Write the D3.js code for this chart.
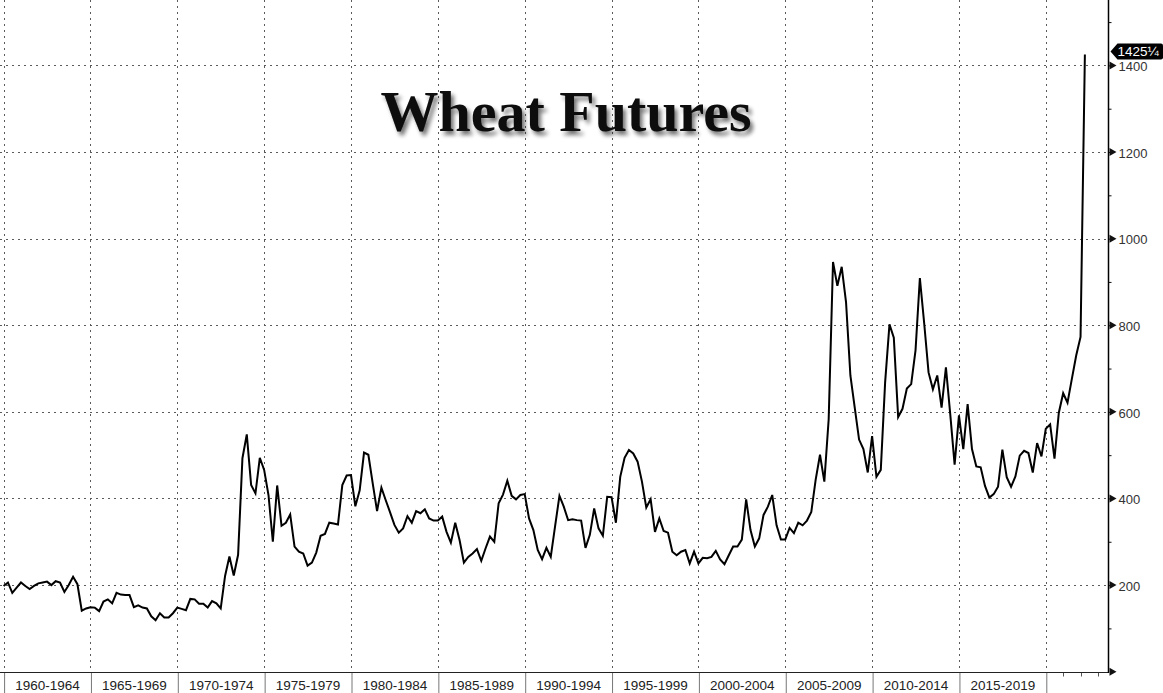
<!DOCTYPE html>
<html>
<head>
<meta charset="utf-8">
<script src="https://cdn.jsdelivr.net/npm/d3@7"></script>
<style>
  html, body { margin: 0; padding: 0; background: #fff; }
  svg { display: block; }
</style>
</head>
<body>
<svg id="chart" width="1163" height="693"></svg>
<script>
// ---------------- DATA ----------------
const title = "Wheat Futures";
const startYear = 1960;          // first quarterly observation
const pointsPerYear = 4;         // quarterly closes
// Wheat futures (US cents / bushel), quarterly, 1960 Q1 -> 2022 Q1
const wheatPrices = [
  198, 206, 182, 194, 206, 198, 191, 198, 204, 206,
  208, 200, 209, 206, 184, 200, 219, 202, 141, 146,
  149, 148, 140, 162, 167, 158, 182, 178, 177, 177,
  149, 153, 148, 146, 128, 119, 135, 125, 125, 135,
  148, 145, 142, 168, 167, 157, 157, 148, 163, 158,
  146, 221, 266, 222, 270, 493, 548, 431, 412, 494,
  466, 408, 300, 430, 337, 344, 363, 289, 277, 273,
  245, 252, 275, 314, 318, 344, 342, 340, 431, 453,
  454, 382, 419, 506, 501, 435, 371, 425, 396, 368,
  339, 321, 331, 359, 344, 371, 366, 375, 354, 349,
  349, 358, 323, 298, 344, 304, 252, 265, 273, 283,
  256, 285, 312, 300, 389, 409, 441, 406, 398, 408,
  410, 354, 327, 281, 260, 286, 265, 336, 406, 381,
  350, 352, 350, 349, 286, 316, 377, 331, 314, 404,
  403, 344, 450, 494, 512, 504, 485, 439, 379, 398,
  323, 354, 325, 321, 277, 269, 277, 281, 250, 277,
  250, 263, 262, 265, 279, 259, 248, 269, 289, 289,
  305, 398, 327, 289, 308, 362, 381, 408, 338, 305,
  305, 332, 320, 344, 338, 349, 369, 443, 501, 439,
  583, 946, 891, 935, 853, 684, 610, 536, 514, 460,
  544, 450, 466, 668, 802, 771, 588, 607, 654, 664,
  742, 909, 804, 691, 652, 684, 610, 703, 594, 478,
  592, 514, 618, 514, 474, 472, 429, 402, 410, 427,
  513, 449, 427, 451, 499, 510, 505, 460, 528, 497,
  561, 571, 492, 598, 643, 621, 676, 730, 773, 1425.25
];
const lastValueLabel = "1425¼";
const periodBoundaries = [1960, 1965, 1970, 1975, 1980, 1985, 1990, 1995, 2000, 2005, 2010, 2015, 2020];
const periodLabels = ["1960-1964", "1965-1969", "1970-1974", "1975-1979", "1980-1984", "1985-1989",
                      "1990-1994", "1995-1999", "2000-2004", "2005-2009", "2010-2014", "2015-2019"];
const yMajorTicks = [200, 400, 600, 800, 1000, 1200, 1400];
const yMinorTicks = [100, 200, 300, 400, 500, 600, 700, 800, 900, 1000, 1100, 1200, 1300, 1400, 1500];
const extraYearTicks = [2021, 2022, 2023];

// ---------------- LAYOUT ----------------
const W = 1163, H = 693;
const axisX = 1108.5;
const axisY = 672.5;

const svg = d3.select("#chart");

const x = d3.scaleLinear().domain([1960, 2020]).range([3.6, 1045.8]);
const y = d3.scaleLinear().domain([0, 1400]).range([671.7, 65.4]);

const series = wheatPrices.map((v, i) => ({ t: startYear + i / pointsPerYear, v }));

// defs: title shadow
const defs = svg.append("defs");
const f = defs.append("filter").attr("id", "shadow").attr("x", "-10%").attr("y", "-30%")
  .attr("width", "130%").attr("height", "170%");
f.append("feGaussianBlur").attr("in", "SourceAlpha").attr("stdDeviation", 2.2).attr("result", "b");
f.append("feOffset").attr("in", "b").attr("dx", 3).attr("dy", 4).attr("result", "o");
f.append("feComponentTransfer").attr("in", "o").attr("result", "o2")
  .append("feFuncA").attr("type", "linear").attr("slope", 0.55);
const fm = f.append("feMerge");
fm.append("feMergeNode").attr("in", "o2");
fm.append("feMergeNode").attr("in", "SourceGraphic");

svg.append("rect").attr("width", W).attr("height", H).attr("fill", "#fff");

// horizontal dotted gridlines
svg.append("g").selectAll("line").data(yMajorTicks).join("line")
  .attr("x1", 0).attr("x2", axisX)
  .attr("y1", d => Math.round(y(d)) + 0.5).attr("y2", d => Math.round(y(d)) + 0.5)
  .attr("stroke", "#5a5a5a").attr("stroke-width", 1).attr("stroke-dasharray", "2,4");

// vertical dotted gridlines at period boundaries
svg.append("g").selectAll("line").data(periodBoundaries).join("line")
  .attr("x1", d => Math.round(x(d)) + 0.5).attr("x2", d => Math.round(x(d)) + 0.5)
  .attr("y1", 0).attr("y2", axisY)
  .attr("stroke", "#5a5a5a").attr("stroke-width", 1).attr("stroke-dasharray", "2,4");

// title
svg.append("text")
  .attr("x", 566).attr("y", 131)
  .attr("text-anchor", "middle")
  .attr("font-family", "'Liberation Serif', 'DejaVu Serif', serif")
  .attr("font-weight", "bold")
  .attr("font-size", 58)
  .attr("fill", "#0a0a0a")
  .attr("filter", "url(#shadow)")
  .text(title);

// bottom axis: separators below the axis line
const xAxisSep = d3.axisBottom(x).tickValues(periodBoundaries).tickSize(21).tickFormat("");
const gx = svg.append("g").attr("transform", `translate(0.5,${axisY})`).call(xAxisSep);
gx.select(".domain").remove();
gx.selectAll(".tick line").attr("stroke", "#777");

// period labels centred between separators
const mids = periodLabels.map((_, i) => (periodBoundaries[i] + periodBoundaries[i + 1]) / 2);
const xAxisLab = d3.axisBottom(x).tickValues(mids).tickSize(0)
  .tickFormat((d, i) => periodLabels[i]);
const gxl = svg.append("g").attr("transform", `translate(0,${axisY + 5})`).call(xAxisLab);
gxl.select(".domain").remove();
gxl.selectAll("text").attr("font-family", "'Liberation Sans', Arial, sans-serif")
  .attr("font-size", 13.5).attr("fill", "#222").attr("dy", "0.71em");

// extra small year ticks after 2020
svg.append("g").selectAll("line").data(extraYearTicks).join("line")
  .attr("x1", d => Math.round(x(d)) + 0.5).attr("x2", d => Math.round(x(d)) + 0.5)
  .attr("y1", axisY).attr("y2", axisY + 4).attr("stroke", "#555");

// x axis line
svg.append("line").attr("x1", 0).attr("x2", axisX).attr("y1", axisY).attr("y2", axisY)
  .attr("stroke", "#222").attr("stroke-width", 1.2);

// right axis
const yAxis = d3.axisRight(y).tickValues(yMinorTicks).tickSize(3).tickFormat("");
const gy = svg.append("g").attr("transform", `translate(${axisX},0)`).call(yAxis);
gy.select(".domain").remove();
gy.selectAll(".tick line").attr("stroke", "#111");
svg.append("line").attr("x1", axisX).attr("x2", axisX).attr("y1", 0).attr("y2", axisY + 0.5)
  .attr("stroke", "#000").attr("stroke-width", 1.5);

// label pointers and labels
const pointerTicks = [0].concat(yMajorTicks);
svg.append("g").selectAll("path").data(pointerTicks).join("path")
  .attr("d", d => {
    const yy = y(d);
    return `M${axisX + 1},${yy - 4} L${axisX + 8},${yy} L${axisX + 1},${yy + 4} Z`;
  })
  .attr("fill", "#111");
svg.append("g").selectAll("text").data(yMajorTicks).join("text")
  .attr("x", axisX + 10).attr("y", d => y(d) + 1).attr("dy", "0.36em")
  .attr("font-family", "'Liberation Sans', Arial, sans-serif")
  .attr("font-size", 13).attr("fill", "#333")
  .text(d => d);

// the price line
const line = d3.line().x(d => x(d.t)).y(d => y(d.v));
svg.append("path").datum(series)
  .attr("d", line)
  .attr("fill", "none").attr("stroke", "#000").attr("stroke-width", 2)
  .attr("stroke-linejoin", "miter");

// last value flag
const last = series[series.length - 1];
const ly = y(last.v) - 3;
svg.append("path")
  .attr("d", `M${axisX + 2},${ly} L${axisX + 9},${ly - 8} L${W - 2},${ly - 8} Q${W},${ly - 8} ${W},${ly - 6} L${W},${ly + 6} Q${W},${ly + 8} ${W - 2},${ly + 8} L${axisX + 9},${ly + 8} Z`)
  .attr("fill", "#000");
svg.append("text")
  .attr("x", axisX + 9).attr("y", ly).attr("dy", "0.36em")
  .attr("font-family", "'Liberation Sans', Arial, sans-serif")
  .attr("font-size", 13.5).attr("fill", "#fff")
  .text(lastValueLabel);
</script>
</body>
</html>
